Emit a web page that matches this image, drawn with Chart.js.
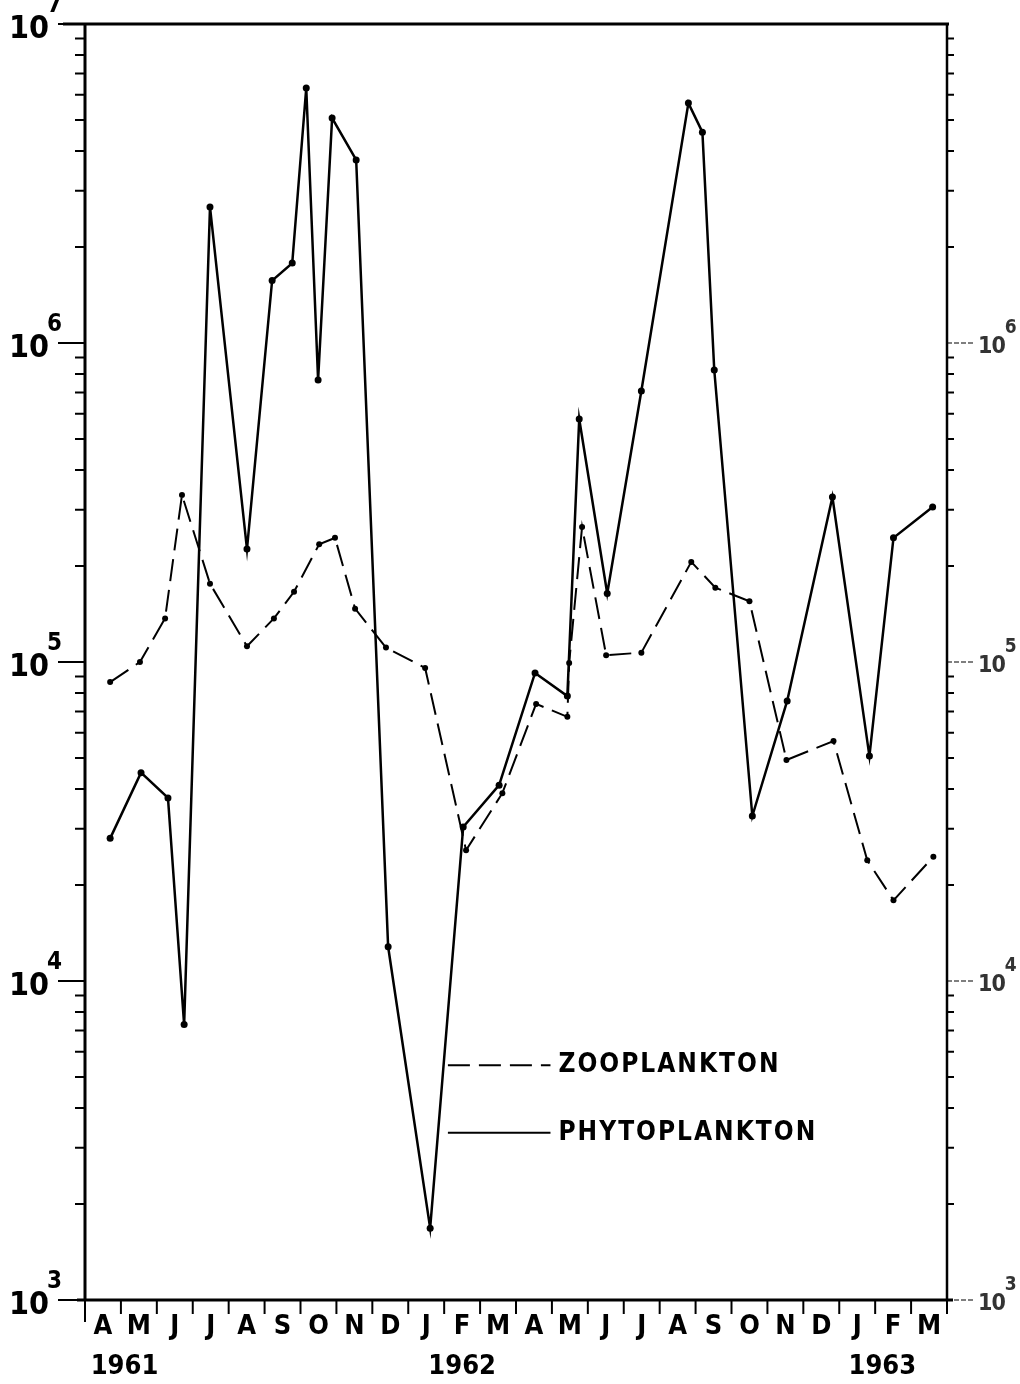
<!DOCTYPE html>
<html>
<head>
  <script src="https://cdn.jsdelivr.net/npm/chart.js"></script>
  <style>
    body { margin: 0; background: #fff; }
    #wrap { width: 1020px; height: 1384px; }
  </style>
</head>
<body>
  <div id="wrap"><canvas id="myChart"></canvas></div>

  <script>
    // x = months since start of April 1961
    var monthLabels = ['A','M','J','J','A','S','O','N','D','J','F','M','A','M','J','J','A','S','O','N','D','J','F','M'];
    var yearLabels = ['1961', '1962', '1963'];
    var yearAt = [1.1, 10.5, 22.2];
    var decadeExps = [3, 4, 5, 6, 7];

    var phytoMonth = [0.70, 1.56, 2.31, 2.76, 3.48, 4.51, 5.21, 5.77, 6.16, 6.49, 6.88, 7.55, 8.44, 9.61, 10.53,
                      11.53, 12.53, 13.43, 13.76, 14.54, 15.49, 16.80, 17.19, 17.52, 18.58, 19.55, 20.81, 21.84, 22.51, 23.60];
    var phytoValue = [28000, 45000, 37500, 7300, 2670000, 226000, 1570000, 1780000, 6300000, 766000, 5070000, 3750000, 12800, 1680, 30400,
                      41100, 92400, 78200, 578000, 164000, 707000, 5650000, 4580000, 823000, 32900, 75500, 329000, 50700, 245000, 306000];

    var zooMonth = [0.70, 1.53, 2.23, 2.70, 3.48, 4.51, 5.26, 5.82, 6.52, 6.96, 7.52, 8.38, 9.47, 10.61, 11.62,
                    12.56, 13.43, 13.48, 13.84, 14.51, 15.49, 16.88, 17.55, 18.50, 19.53, 20.84, 21.78, 22.51, 23.62];
    var zooValue = [86500, 100000, 137000, 334000, 176000, 112000, 137000, 166000, 234000, 245000, 147000, 111000, 95800, 25700, 38800,
                    73900, 67300, 99300, 265000, 105000, 107000, 206000, 171000, 155000, 49300, 56500, 23900, 17900, 24500];

    function toPoints(xs, ys) {
      return xs.map(function (x, i) { return { x: x, y: ys[i] }; });
    }

    var FONT = "'DejaVu Sans Condensed', 'Liberation Sans Narrow', 'DejaVu Sans', sans-serif";

    // axes, ticks, labels and legend drawn by hand (old paper style)
    var framePlugin = {
      id: 'frame',
      afterDraw: function (chart) {
        var ctx = chart.ctx;
        var a = chart.chartArea;
        var xs = chart.scales.x, ys = chart.scales.y;
        ctx.save();
        ctx.strokeStyle = '#000';
        ctx.fillStyle = '#000';
        ctx.lineCap = 'butt';

        // frame
        ctx.lineWidth = 3;
        ctx.beginPath();
        ctx.moveTo(a.left - 22, a.top); ctx.lineTo(a.right + 2, a.top);
        ctx.moveTo(a.left, a.top); ctx.lineTo(a.left, a.bottom);
        ctx.moveTo(a.left - 8, a.bottom); ctx.lineTo(a.right + 6, a.bottom);
        ctx.stroke();
        ctx.lineWidth = 2.5;
        ctx.beginPath();
        ctx.moveTo(a.right, a.top); ctx.lineTo(a.right, a.bottom);
        ctx.stroke();

        // y ticks (log decades + minors)
        decadeExps.forEach(function (e) {
          var y = ys.getPixelForValue(Math.pow(10, e));
          ctx.lineWidth = 2;
          ctx.setLineDash([]);
          ctx.beginPath();
          ctx.moveTo(a.left - 27, y); ctx.lineTo(a.left, y);
          ctx.stroke();
          if (e < 7) {
            ctx.lineWidth = 1.2;
            ctx.setLineDash([5, 2]);
            ctx.beginPath();
            ctx.moveTo(a.right, y); ctx.lineTo(a.right + 28, y);
            ctx.stroke();
            ctx.setLineDash([]);
            for (var m = 2; m <= 9; m++) {
              var ym = ys.getPixelForValue(m * Math.pow(10, e));
              ctx.lineWidth = 2;
              ctx.beginPath();
              ctx.moveTo(a.left - 10, ym); ctx.lineTo(a.left, ym);
              ctx.moveTo(a.right, ym); ctx.lineTo(a.right + 7, ym);
              ctx.stroke();
            }
          }
          // labels 10^e
          ctx.textBaseline = 'alphabetic';
          ctx.font = 'bold 32px ' + FONT;
          ctx.textAlign = 'right';
          ctx.fillText('10', a.left - 36, y + 14);
          ctx.font = 'bold 24px ' + FONT;
          ctx.textAlign = 'left';
          ctx.fillText(String(e), a.left - 38, y - 12);
          if (e < 7) {
            ctx.fillStyle = '#333';
            ctx.font = 'bold 23px ' + FONT;
            ctx.letterSpacing = '-1px';
            ctx.fillText('10', a.right + 31, y + 10);
            var w = ctx.measureText('10').width;
            ctx.letterSpacing = '0px';
            ctx.font = 'bold 19px ' + FONT;
            ctx.fillText(String(e), a.right + 31 + w, y - 10);
            ctx.fillStyle = '#000';
          }
        });

        // x ticks at month boundaries
        ctx.lineWidth = 2;
        for (var i = 0; i <= monthLabels.length; i++) {
          var x = xs.getPixelForValue(i);
          ctx.beginPath();
          ctx.moveTo(x, a.bottom);
          ctx.lineTo(x, a.bottom + (i === 0 ? 22 : 14));
          ctx.stroke();
        }
        ctx.font = 'bold 27px ' + FONT;
        ctx.textAlign = 'center';
        ctx.textBaseline = 'middle';
        monthLabels.forEach(function (lab, i) {
          ctx.fillText(lab, xs.getPixelForValue(i + 0.5), a.bottom + 27);
        });
        yearLabels.forEach(function (lab, i) {
          ctx.fillText(lab, xs.getPixelForValue(yearAt[i]), a.bottom + 67);
        });

        // legend inside plot
        var W = a.right - a.left, H = a.bottom - a.top;
        var lx0 = a.left + 0.421 * W, lx1 = a.left + 0.54 * W;
        chart.data.datasets.forEach(function (ds, k) {
          var ly = a.top + (k === 0 ? 0.816 : 0.869) * H;
          ctx.lineWidth = 2;
          ctx.setLineDash(ds.borderDash || []);
          ctx.beginPath();
          ctx.moveTo(lx0, ly); ctx.lineTo(lx1, ly);
          ctx.stroke();
          ctx.setLineDash([]);
          ctx.font = 'bold 26px ' + FONT;
          ctx.textAlign = 'left';
          ctx.textBaseline = 'middle';
          ctx.letterSpacing = '2px';
          ctx.fillText(ds.label, lx1 + 8, ly);
          ctx.letterSpacing = '0px';
        });
        ctx.restore();
      }
    };

    var ctx = document.getElementById('myChart').getContext('2d');
    var myChart = new Chart(ctx, {
      type: 'line',
      data: {
        datasets: [{
          label: 'ZOOPLANKTON',
          data: toPoints(zooMonth, zooValue),
          borderColor: '#000',
          backgroundColor: '#000',
          borderWidth: 2,
          borderDash: [22, 9],
          pointRadius: 3,
          pointBorderWidth: 0,
          tension: 0,
          fill: false
        }, {
          label: 'PHYTOPLANKTON',
          data: toPoints(phytoMonth, phytoValue),
          borderColor: '#000',
          backgroundColor: '#000',
          borderWidth: 2.5,
          pointRadius: 3.5,
          pointBorderWidth: 0,
          tension: 0,
          fill: false
        }]
      },
      options: {
        responsive: true,
        maintainAspectRatio: false,
        animation: false,
        layout: { padding: { top: 24, left: 0, right: 0, bottom: 0 } },
        plugins: { legend: { display: false }, tooltip: { enabled: false } },
        scales: {
          x: {
            type: 'linear', min: 0, max: 24,
            grid: { display: false }, border: { display: false },
            ticks: { display: false },
            afterFit: function (s) { s.height = 84; }
          },
          y: {
            type: 'logarithmic', min: 1000, max: 10000000, position: 'left',
            grid: { display: false }, border: { display: false },
            ticks: { display: false },
            afterFit: function (s) { s.width = 85; }
          },
          y2: {
            type: 'logarithmic', min: 1000, max: 10000000, position: 'right',
            grid: { display: false }, border: { display: false },
            ticks: { display: false },
            afterFit: function (s) { s.width = 73; }
          }
        }
      },
      plugins: [framePlugin]
    });
  </script>
</body>
</html>
